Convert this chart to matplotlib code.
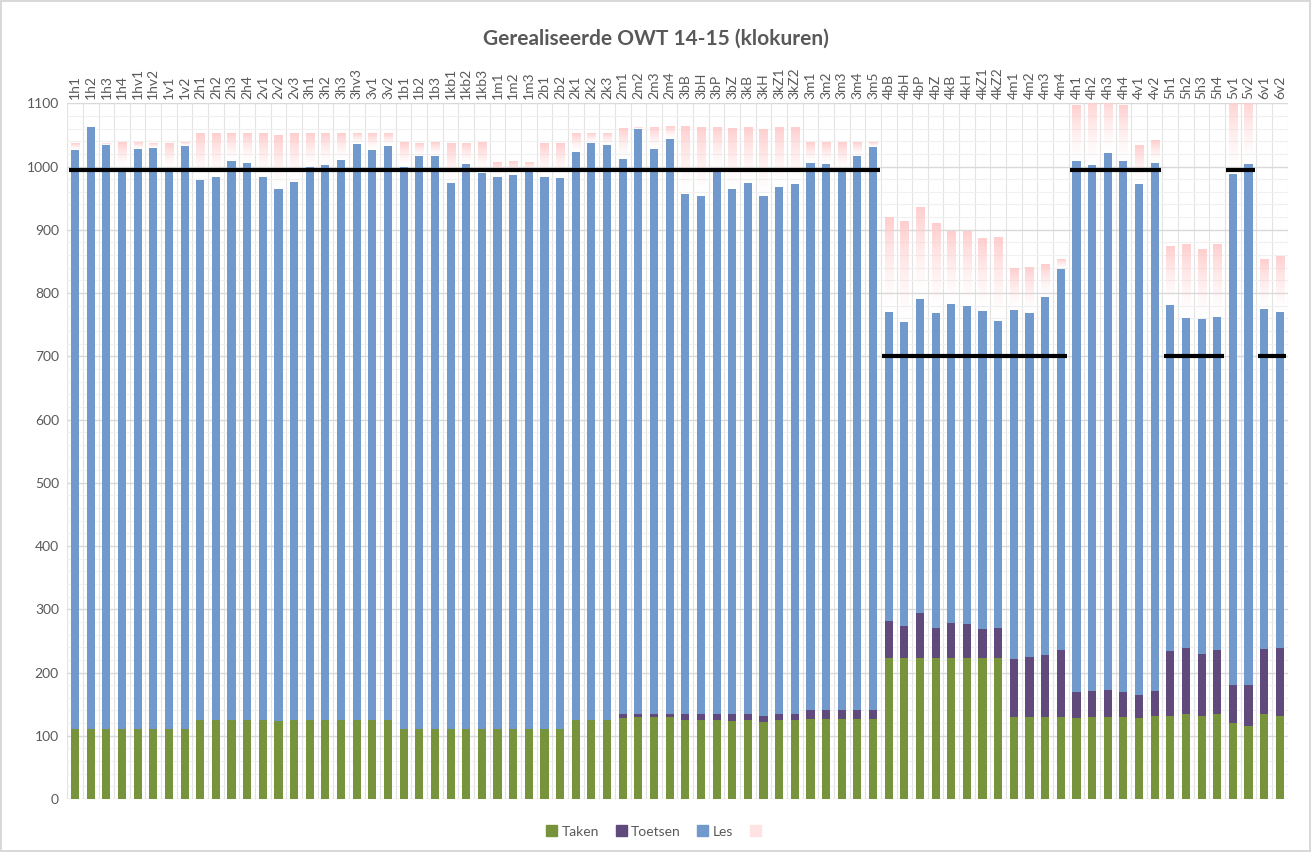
import numpy as np
import matplotlib
matplotlib.use("Agg")
import matplotlib.pyplot as plt
from matplotlib.colors import LinearSegmentedColormap
from matplotlib.patches import Patch

plt.rcParams['font.family'] = ['Lato', 'DejaVu Sans']

# klassen
klassen = ["1h1", "1h2", "1h3", "1h4", "1hv1", "1hv2", "1v1", "1v2",
           "2h1", "2h2", "2h3", "2h4", "2v1", "2v2", "2v3",
           "3h1", "3h2", "3h3", "3hv3", "3v1", "3v2",
           "1b1", "1b2", "1b3", "1kb1", "1kb2", "1kb3", "1m1", "1m2", "1m3",
           "2b1", "2b2", "2k1", "2k2", "2k3", "2m1", "2m2", "2m3", "2m4",
           "3bB", "3bH", "3bP", "3bZ", "3kB", "3kH", "3kZ1", "3kZ2",
           "3m1", "3m2", "3m3", "3m4", "3m5",
           "4bB", "4bH", "4bP", "4bZ", "4kB", "4kH", "4kZ1", "4kZ2",
           "4m1", "4m2", "4m3", "4m4",
           "4h1", "4h2", "4h3", "4h4", "4v1", "4v2",
           "5h1", "5h2", "5h3", "5h4", "5v1", "5v2", "6v1", "6v2"]

taken = [110, 110, 110, 110, 110, 110, 110, 110,
         125, 125, 125, 125, 125, 123, 125,
         125, 125, 125, 125, 125, 125,
         110, 110, 110, 110, 110, 110, 110, 110, 110,
         110, 110, 125, 125, 125, 128, 130, 130, 130,
         125, 125, 125, 123, 125, 122, 125, 125,
         127, 127, 127, 127, 127,
         223, 223, 223, 223, 223, 223, 223, 223,
         129, 130, 130, 129,
         128, 129, 129, 129, 128, 131,
         131, 135, 131, 134, 120, 115, 135, 132]

toetsen = [0, 0, 0, 0, 0, 0, 0, 0,
           0, 0, 0, 0, 0, 0, 0,
           0, 0, 0, 0, 0, 0,
           0, 0, 0, 0, 0, 0, 0, 0, 0,
           0, 0, 0, 0, 0, 6, 4, 4, 4,
           9, 9, 9, 11, 9, 9, 9, 9,
           14, 14, 14, 14, 14,
           58, 50, 71, 48, 56, 54, 46, 47,
           93, 94, 98, 107,
           41, 42, 43, 40, 37, 40,
           103, 103, 99, 102, 61, 65, 102, 106]

les = [916, 952, 924, 887, 917, 920, 886, 922,
       853, 859, 883, 881, 859, 841, 850,
       874, 877, 885, 910, 901, 907,
       889, 907, 906, 864, 894, 879, 874, 876, 883,
       874, 872, 898, 912, 909, 878, 925, 894, 909,
       822, 819, 859, 831, 840, 822, 834, 838,
       864, 863, 852, 876, 890,
       489, 481, 496, 498, 503, 502, 503, 486,
       551, 545, 565, 602,
       839, 831, 849, 840, 808, 834,
       547, 523, 529, 526, 807, 824, 538, 532]

# geplande totalen (bovenkant roze balk)
gepland = [1037, 1037, 1037, 1037, 1037, 1037, 1037, 1037,
           1052, 1052, 1052, 1052, 1052, 1049, 1052,
           1052, 1052, 1052, 1052, 1052, 1052,
           1037, 1037, 1037, 1037, 1037, 1037, 1007, 1007, 1007,
           1037, 1037, 1052, 1052, 1052, 1060, 1062, 1062, 1062,
           1062, 1062, 1062, 1060, 1062, 1058, 1062, 1062,
           1038, 1038, 1038, 1038, 1038,
           920, 913, 935, 911, 896, 896, 886, 888,
           839, 841, 845, 853,
           1095, 1110, 1110, 1097, 1034, 1040,
           873, 877, 869, 876, 1110, 1110, 854, 857]

norm = [995] * 52 + [700] * 12 + [995] * 6 + [700] * 4 + [995] * 2 + [700] * 2
groepen = [(0, 51), (52, 63), (64, 69), (70, 73), (74, 75), (76, 77)]

taken = np.array(taken)
toetsen = np.array(toetsen)
les = np.array(les)
gepland = np.array(gepland)
x = np.arange(len(klassen))
top = taken + toetsen + les
rest = np.clip(gepland - top, 0, None)

fig = plt.figure(figsize=(13.11, 8.52), dpi=100)
fig.patch.set_edgecolor('#D9D9D9')
fig.patch.set_linewidth(1.5)
ax = fig.add_axes([0.0513, 0.0622, 0.9309, 0.8166])

w = 0.52
ax.bar(x, taken, w, color='#77933C', label='Taken', zorder=2)
ax.bar(x, toetsen, w, bottom=taken, color='#604A7B', label='Toetsen', zorder=2)
ax.bar(x, les, w, bottom=taken + toetsen, color='#7199CC', label='Les', zorder=2)

# roze balk met verloop
pink = LinearSegmentedColormap.from_list('pink', [(1, 0.8, 0.8, 0.0), (1, 0.8, 0.8, 0.95)])
grad = np.linspace(1, 0, 100).reshape(-1, 1) ** 1.5
for i in x:
    if rest[i] > 0:
        ax.imshow(grad, extent=(i - w / 2, i + w / 2, top[i], top[i] + rest[i]),
                  aspect='auto', cmap=pink, vmin=0, vmax=1, zorder=1.5)

for a, b in groepen:
    ax.plot([a - 0.42, b + 0.42], [norm[a], norm[b]], color='black', lw=3,
            solid_capstyle='butt', zorder=4)

ax.set_xlim(-0.5, len(klassen) - 0.5)
ax.set_ylim(0, 1100)
ax.set_yticks(range(0, 1101, 100))
ax.set_yticks(range(0, 1101, 20), minor=True)
ax.set_xticks(x)
ax.set_xticks(np.arange(-0.5, len(klassen), 1), minor=True)
ax.set_xticklabels(klassen, rotation=90, fontsize=10, color='#595959')
ax.xaxis.tick_top()
ax.tick_params(axis='x', which='both', length=0, pad=3)
ax.tick_params(axis='y', which='both', length=0, labelsize=10, labelcolor='#595959', pad=6)
ax.grid(which='major', axis='y', color='#D9D9D9', lw=1, zorder=0)
ax.grid(which='minor', axis='y', color='#F0F0F0', lw=0.8, zorder=0)
ax.grid(which='minor', axis='x', color='#E3E3E3', lw=0.8, zorder=0)
ax.set_axisbelow(True)
for s in ax.spines.values():
    s.set_visible(False)

fig.text(0.5, 0.955, 'Gerealiseerde OWT 14-15 (klokuren)', ha='center', va='center',
         fontsize=15, fontweight='bold', color='#595959')

handles = [Patch(color='#77933C'), Patch(color='#604A7B'), Patch(color='#7199CC'),
           Patch(color='#FFE3E3')]
fig.legend(handles, ['Taken', 'Toetsen', 'Les', ''], loc='center', bbox_to_anchor=(0.5, 0.024),
           ncol=4, frameon=False, fontsize=10, handlelength=0.8, handleheight=0.8,
           handletextpad=0.3, columnspacing=1.2, labelcolor='#595959')

fig.savefig('out.png', dpi=100)
